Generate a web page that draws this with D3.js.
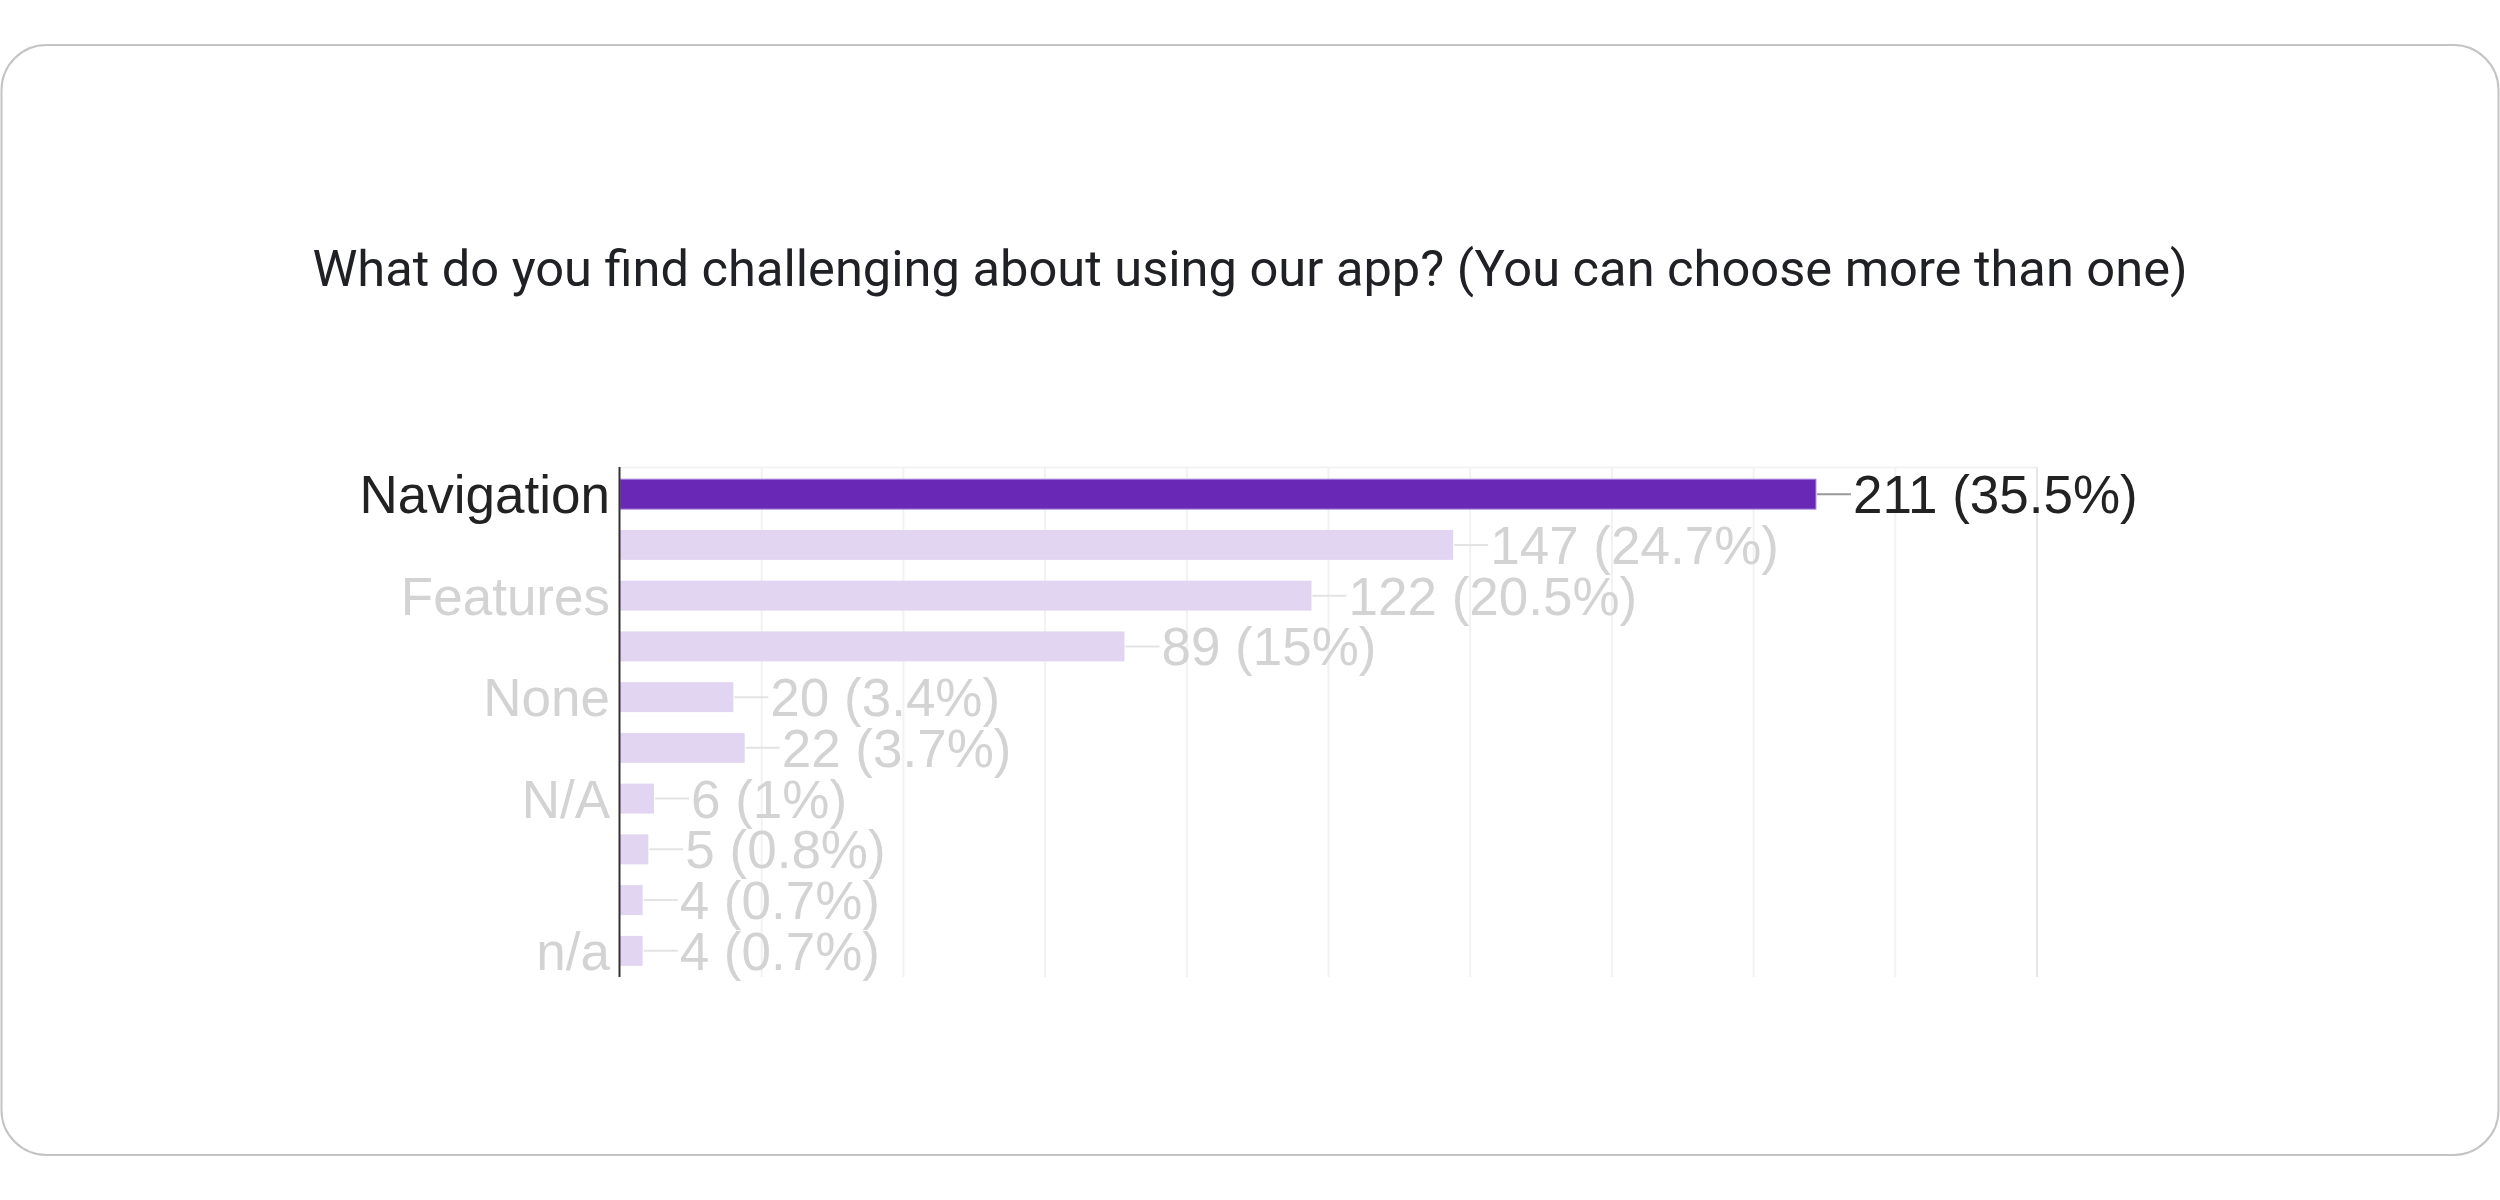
<!DOCTYPE html>
<html>
<head>
<meta charset="utf-8">
<script src="https://cdn.jsdelivr.net/npm/d3@7"></script>
<style>
  html, body { margin: 0; padding: 0; background: #fff; }
  svg { display: block; }
</style>
</head>
<body>
<div id="chart"></div>
<script>
// answers, top to bottom (google only prints every second label)
var labels = ["Navigation", "", "Features", "", "None", "", "N/A", "", "", "n/a"];
var counts = [211, 147, 122, 89, 20, 22, 6, 5, 4, 4];
var percents = ["35.5%", "24.7%", "20.5%", "15%", "3.4%", "3.7%", "1%", "0.8%", "0.7%", "0.7%"];
var gridTicks = [0, 25, 50, 75, 100, 125, 150, 175, 200, 225, 250];
var highlighted = 0;

var W = 2500, H = 1200;
var title = "What do you find challenging about using our app? (You can choose more than one)";

var svg = d3.select("#chart")
  .append("svg")
  .attr("width", W)
  .attr("height", H);

// card
svg.append("rect")
  .attr("x", 1.5).attr("y", 45)
  .attr("width", W - 3).attr("height", 1110)
  .attr("rx", 45).attr("ry", 45)
  .attr("fill", "#fff")
  .attr("stroke", "#c4c4c4")
  .attr("stroke-width", 2);

svg.append("text")
  .attr("x", 1250)
  .attr("y", 286)
  .attr("text-anchor", "middle")
  .attr("font-family", "Roboto")
  .attr("font-size", "50.6px")
  .attr("fill", "#202124")
  .text(title);

var x = d3.scaleLinear().domain([0, 250]).range([620, 2037]);
var y = d3.scaleBand()
  .domain(d3.range(counts.length))
  .range([467, 978])
  .paddingInner(0.41)
  .paddingOuter(0.24);

var fs = 53;
var capShift = fs * 0.716 / 2;

// grid
var g = svg.append("g");
g.selectAll(".grid")
  .data(gridTicks.slice(1))
  .enter()
  .append("line")
  .attr("x1", function(d){ return x(d); })
  .attr("x2", function(d){ return x(d); })
  .attr("y1", 467).attr("y2", 977)
  .attr("stroke", function(d, i){ return d == 250 ? "#e6e6e6" : "#f2f2f2"; })
  .attr("stroke-width", 2);

g.append("line")
  .attr("x1", x(0)).attr("x2", x(250))
  .attr("y1", 467.5).attr("y2", 467.5)
  .attr("stroke", "#f0f0f0")
  .attr("stroke-width", 1.5);

var rows = svg.selectAll(".row")
  .data(counts)
  .enter()
  .append("g")
  .attr("class", "row");

rows.append("rect")
  .attr("x", x(0))
  .attr("y", function(d, i){ return y(i); })
  .attr("width", function(d){ return x(d) - x(0); })
  .attr("height", y.bandwidth())
  .attr("fill", function(d, i){ return i == highlighted ? "#6a28b7" : "#e1d5f1"; })
  .attr("stroke", function(d, i){ return i == highlighted ? "#a784dc" : "none"; })
  .attr("stroke-width", 1);

// stems to the annotations
rows.append("line")
  .attr("x1", function(d){ return x(d) + 1; })
  .attr("x2", function(d){ return x(d) + 35; })
  .attr("y1", function(d, i){ return y(i) + y.bandwidth() / 2; })
  .attr("y2", function(d, i){ return y(i) + y.bandwidth() / 2; })
  .attr("stroke", function(d, i){ return i == highlighted ? "#999" : "#e3e3e3"; })
  .attr("stroke-width", 2);

rows.append("text")
  .attr("x", function(d){ return x(d) + 37; })
  .attr("y", function(d, i){ return y(i) + y.bandwidth() / 2 + capShift; })
  .attr("font-family", "Liberation Sans, Arial")
  .attr("font-size", fs + "px")
  .attr("fill", function(d, i){ return i == highlighted ? "#222" : "#d3d3d3"; })
  .text(function(d, i){ return d + " (" + percents[i] + ")"; });

rows.append("text")
  .attr("x", 610)
  .attr("y", function(d, i){ return y(i) + y.bandwidth() / 2 + capShift; })
  .attr("text-anchor", "end")
  .attr("font-family", "Liberation Sans, Arial")
  .attr("font-size", fs + "px")
  .attr("fill", function(d, i){ return i == highlighted ? "#222" : "#d3d3d3"; })
  .text(function(d, i){ return labels[i]; });

// baseline axis
svg.append("line")
  .attr("x1", 619.5).attr("x2", 619.5)
  .attr("y1", 467).attr("y2", 977)
  .attr("stroke", "#333")
  .attr("stroke-width", 2);
</script>
</body>
</html>
